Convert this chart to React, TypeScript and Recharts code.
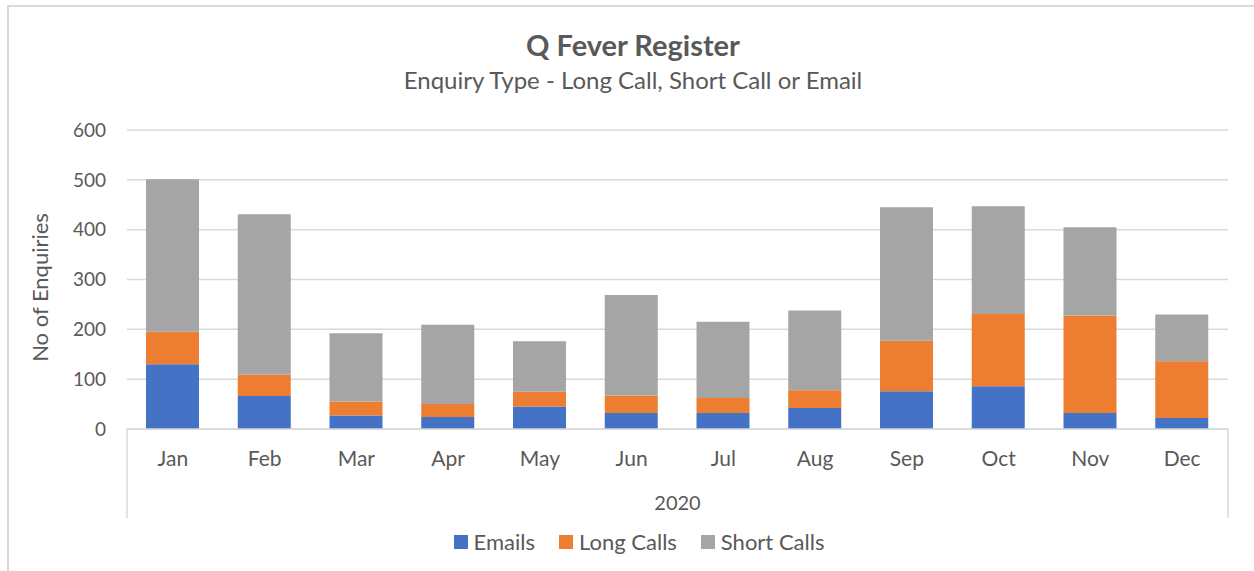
import React from "react"
import { BarChart, Bar, XAxis, YAxis, CartesianGrid, Legend } from "recharts"

const months = ["Jan", "Feb", "Mar", "Apr", "May", "Jun", "Jul", "Aug", "Sep", "Oct", "Nov", "Dec"]
const emails = [130, 66, 27, 24, 45, 32, 32, 42, 76, 86, 32, 22]
const longCalls = [65, 43, 28, 26, 30, 35, 30, 36, 101, 145, 196, 114]
const shortCalls = [306, 322, 137, 159, 101, 202, 153, 160, 268, 216, 177, 94]
const yTicks = [0, 100, 200, 300, 400, 500, 600]
const year = "2020"

const series = [
  { key: "emails", name: "Emails", color: "#4472C4" },
  { key: "longCalls", name: "Long Calls", color: "#ED7D31" },
  { key: "shortCalls", name: "Short Calls", color: "#A5A5A5" },
]

const data = months.map((month, i) => ({
  month,
  emails: emails[i],
  longCalls: longCalls[i],
  shortCalls: shortCalls[i],
}))

const FONT = "Lato, 'Open Sans', sans-serif"
const TEXT = "#595959"
const GRID = "#D9D9D9"

function MonthTick(props: any) {
  const { x, y, payload, index, visibleTicksCount } = props
  const half = payload && typeof payload.offset === "number" && payload.offset > 0 ? payload.offset : 45.9
  return (
    <g>
      <text x={x} y={y + 37} textAnchor="middle" fill={TEXT} fontSize={21} fontFamily={FONT}>
        {payload.value}
      </text>
      {index === 0 && <line x1={x - half} x2={x - half} y1={y} y2={y + 89} stroke={GRID} strokeWidth={1.5} />}
      {index === visibleTicksCount - 1 && (
        <line x1={x + half} x2={x + half} y1={y} y2={y + 89} stroke={GRID} strokeWidth={1.5} />
      )}
    </g>
  )
}

function LegendContent() {
  return (
    <div
      style={{
        display: "flex",
        justifyContent: "center",
        alignItems: "center",
        height: 47,
        paddingLeft: 24,
        fontFamily: FONT,
        fontSize: 22,
        color: TEXT,
        gap: 24,
      }}
    >
      {series.map((s) => (
        <span key={s.key} style={{ display: "flex", alignItems: "center" }}>
          <span style={{ width: 14, height: 14, background: s.color, marginRight: 6, display: "inline-block" }} />
          {s.name}
        </span>
      ))}
    </div>
  )
}

export default function App() {
  return (
    <div style={{ position: "absolute", left: 0, top: 0, width: 1254, height: 571, background: "#fff", overflow: "hidden" }}>
      <div
        style={{
          position: "absolute",
          left: 7,
          top: 5,
          width: 1254,
          height: 571,
          borderTop: `2px solid ${GRID}`,
          borderLeft: `2px solid ${GRID}`,
        }}
      />
      <div
        style={{
          position: "absolute",
          left: 0,
          width: 1266,
          top: 28,
          textAlign: "center",
          fontFamily: FONT,
          fontWeight: 700,
          fontSize: 29,
          color: TEXT,
          lineHeight: "34px",
        }}
      >
        Q Fever Register
      </div>
      <div
        style={{
          position: "absolute",
          left: 0,
          width: 1266,
          top: 65,
          textAlign: "center",
          fontFamily: FONT,
          fontSize: 24,
          color: TEXT,
          lineHeight: "30px",
        }}
      >
        Enquiry Type - Long Call, Short Call or Email
      </div>
      <div style={{ position: "absolute", left: 0, top: 0 }}>
        <BarChart width={1254} height={571} data={data} margin={{ top: 130, right: 26, left: 0, bottom: 6 }} barSize={53}>
          <CartesianGrid vertical={false} stroke={GRID} strokeWidth={1.5} />
          <XAxis
            dataKey="month"
            height={89}
            tickSize={0}
            tickMargin={0}
            axisLine={{ stroke: GRID, strokeWidth: 1.5 }}
            tickLine={false}
            tick={<MonthTick />}
            interval={0}
            label={{
              content: (p: any) => {
                const vb = p.viewBox
                return (
                  <text x={vb.x + vb.width / 2} y={vb.y + 81} textAnchor="middle" fill={TEXT} fontSize={20} fontFamily={FONT}>
                    {year}
                  </text>
                )
              },
            }}
          />
          <YAxis
            width={127}
            domain={[0, 600]}
            ticks={yTicks}
            axisLine={false}
            tickLine={false}
            tickSize={0}
            tickMargin={21}
            tick={{ fill: TEXT, fontSize: 19, fontFamily: FONT }}
            label={{
              content: (p: any) => {
                const vb = p.viewBox
                const cx = 39
                const cy = vb.y + vb.height / 2 + 8
                return (
                  <text
                    x={cx}
                    y={cy}
                    transform={`rotate(-90, ${cx}, ${cy})`}
                    textAnchor="middle"
                    dominantBaseline="central"
                    fill={TEXT}
                    fontSize={22}
                    fontFamily={FONT}
                  >
                    No of Enquiries
                  </text>
                )
              },
            }}
          />
          <Legend verticalAlign="bottom" wrapperStyle={{ left: 0, width: 1254, height: 47 }} content={<LegendContent />} />
          {series.map((s) => (
            <Bar key={s.key} dataKey={s.key} name={s.name} stackId="a" fill={s.color} isAnimationActive={false} />
          ))}
        </BarChart>
      </div>
    </div>
  )
}
